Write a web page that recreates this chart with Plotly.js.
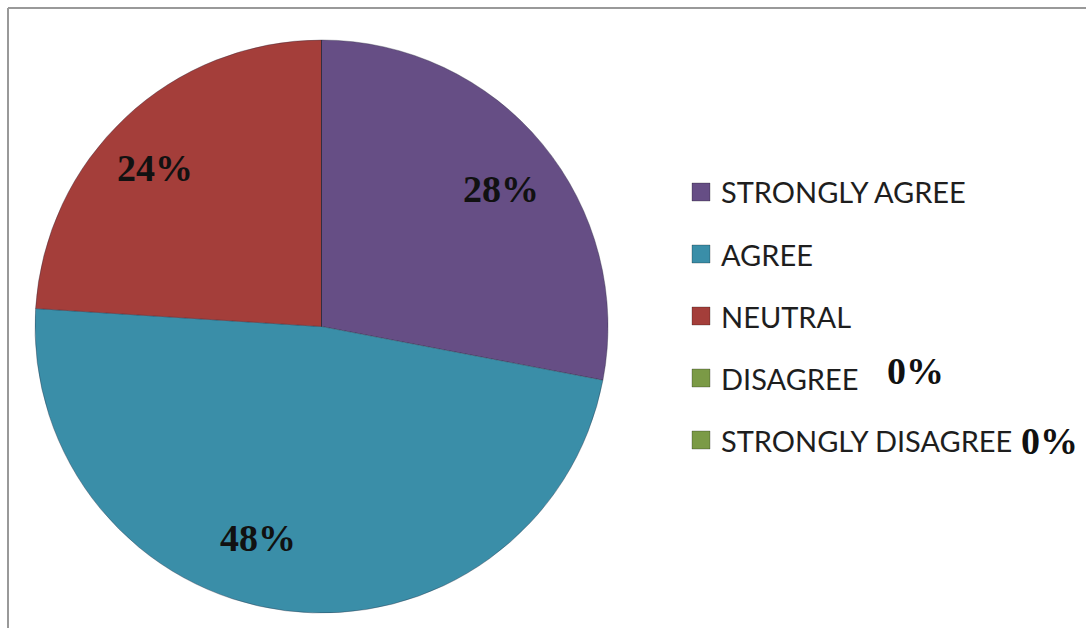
<!DOCTYPE html>
<html>
<head>
<meta charset="utf-8">
<script src="https://cdn.plot.ly/plotly-3.0.1.min.js"></script>
<style>
html,body{margin:0;padding:0;background:#fff;}
#chart{width:1086px;height:628px;}
</style>
</head>
<body>
<div id="chart"></div>
<script>
// ---- data ----
const labels = ['STRONGLY AGREE', 'AGREE', 'NEUTRAL', 'DISAGREE', 'STRONGLY DISAGREE'];
const values = [28, 48, 24, 0, 0];

// ---- styles / layout constants ----
const sliceColors = ['#664e85', '#3a8ea8', '#a43e3a', '#7b9a46', '#7b9a46'];
const W = 1086, H = 628;
// pixel centres of percentage labels (in-pie and next to legend)
const valueLabelPos = [[501, 189], [258, 538], [155, 168], [915, 371], [1049, 441]];
const legendX = 692, legendTextX = 719, legendY0 = 192, legendStep = 62, markerSize = 18;

const px = x => x / W;
const py = y => 1 - y / H;

const total = values.reduce((a, b) => a + b, 0);
const pctText = values.map(v => Math.round(v / total * 100) + '%');

const trace = {
  type: 'pie',
  labels: labels,
  values: values,
  sort: false,
  direction: 'clockwise',
  rotation: 0,
  textinfo: 'none',
  hoverinfo: 'label+percent',
  showlegend: false,
  marker: {colors: sliceColors, line: {color: 'rgba(40,40,60,0.35)', width: 1}},
  domain: {x: [px(35), px(608)], y: [py(613), py(40)]}
};

const shapes = [
  // frame lines (top and left)
  {type: 'line', xref: 'paper', yref: 'paper', x0: px(8), x1: 1, y0: py(8), y1: py(8), line: {color: '#999', width: 2}},
  {type: 'line', xref: 'paper', yref: 'paper', x0: px(8), x1: px(8), y0: py(8), y1: 0, line: {color: '#999', width: 2}}
];
const annotations = [];

labels.forEach((lab, i) => {
  const cy = legendY0 + i * legendStep;
  shapes.push({
    type: 'rect', xref: 'paper', yref: 'paper',
    x0: px(legendX), x1: px(legendX + markerSize),
    y0: py(cy - markerSize / 2), y1: py(cy + markerSize / 2),
    fillcolor: sliceColors[i], line: {color: 'rgba(0,0,0,0.25)', width: 1}
  });
  annotations.push({
    xref: 'paper', yref: 'paper', x: px(legendTextX), y: py(cy),
    xanchor: 'left', yanchor: 'middle', showarrow: false,
    text: lab, font: {family: 'Lato, sans-serif', size: 29, color: '#1e1e1e'}
  });
});

pctText.forEach((t, i) => {
  annotations.push({
    xref: 'paper', yref: 'paper', x: px(valueLabelPos[i][0]), y: py(valueLabelPos[i][1]),
    xanchor: 'center', yanchor: 'middle', showarrow: false,
    text: '<b>' + t + '</b>',
    font: {family: '"Liberation Serif", "Times New Roman", serif', size: 38, color: '#111'}
  });
});

const layout = {
  width: W, height: H,
  margin: {l: 0, r: 0, t: 0, b: 0},
  paper_bgcolor: '#fff',
  showlegend: false,
  shapes: shapes,
  annotations: annotations
};

Plotly.newPlot('chart', [trace], layout, {displayModeBar: false, staticPlot: true});
</script>
</body>
</html>
